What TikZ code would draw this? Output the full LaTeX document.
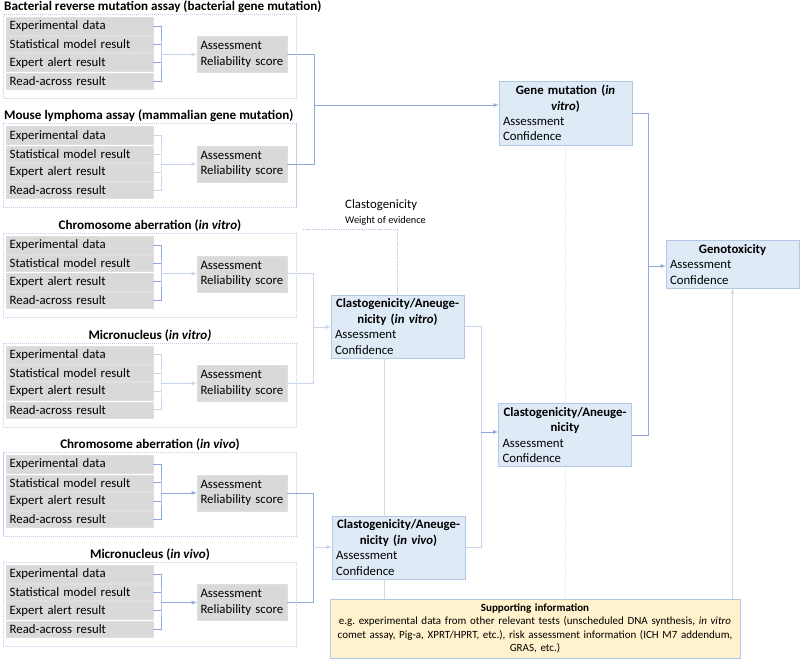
\documentclass[tikz,border=0pt]{standalone}
\usepackage{fontspec}
\setmainfont{Carlito}
\usepackage{tikz}
\usetikzlibrary{arrows.meta,backgrounds,positioning,calc}

\definecolor{boxgray}{HTML}{D9D9D9}
\definecolor{paleblue}{HTML}{DEEBF7}
\definecolor{edgeblue}{HTML}{B4C7E7}
\definecolor{wireblue}{HTML}{8FAADC}
\definecolor{faintblue}{HTML}{C9D6EE}
\definecolor{paleyellow}{HTML}{FFF2CC}

\tikzset{
  rowbox/.style={draw=gray!25, fill=boxgray, anchor=west, text width=140pt, inner sep=3.5pt,
    minimum height=16pt, align=left, font=\fontsize{12.8}{15.4}\selectfont},
  assessbox/.style={draw=gray!25, fill=boxgray, text width=83pt, inner sep=3.5pt,
    minimum height=36pt, align=left, font=\fontsize{12.8}{15.4}\selectfont},
  resbox/.style={draw=edgeblue, fill=paleblue, text width=125pt, inner sep=4pt,
    align=left, font=\fontsize{12.8}{15.4}\selectfont},
  suppbox/.style={draw=edgeblue, fill=paleyellow, text width=402pt, inner sep=4pt,
    minimum height=59pt, align=center, font=\fontsize{11}{13.5}\selectfont},
  grouptitle/.style={font=\bfseries\fontsize{13.1}{15}\selectfont, inner sep=1pt},
  groupframe/.style={draw=edgeblue!85, dash pattern=on 1.2pt off 0.8pt, fill=white, line width=0.6pt},
  wire/.style={draw=wireblue, line width=0.8pt},
  faintwire/.style={draw=faintblue, line width=0.8pt},
  greyline/.style={draw=gray!30, line width=0.8pt},
  dotline/.style={draw=edgeblue, densely dotted, line width=0.8pt},
}

\begin{document}
\frenchspacing
\begin{tikzpicture}[x=1pt,y=-1pt]
  \useasboundingbox (0,0) rectangle (800,662);
  % six assay groups
  \foreach \i/\tx/\tanc/\ttl/\bst/\ast in {
      1/3/west/{Bacterial reverse mutation assay (bacterial gene mutation)}/wire/faintwire,
      2/3/west/{Mouse lymphoma assay (mammalian gene mutation)}/faintwire/faintwire,
      3/150/center/{Chromosome aberration (\textit{in vitro})}/wire/faintwire,
      4/150/center/{Micronucleus (\textit{in vitro)}}/faintwire/faintwire,
      5/150/center/{Chromosome aberration (\textit{in vivo})}/wire/wire,
      6/150/center/{Micronucleus (\textit{in vivo})}/wire/wire}
  {
    \pgfmathsetmacro\gy{14+(\i-1)*109.6}
    \draw[groupframe] (3,\gy) rectangle (296,\gy+84);
    \node[grouptitle, anchor=\tanc] (t\i) at (\tx,\gy-7.5) {\ttl};
    \foreach \j/\lbl in {1/Experimental data,2/Statistical model result,3/Expert alert result,4/Read-across result}
      \node[rowbox] (r\i\j) at (6,{\gy+12+(\j-1)*18.3}) {\lbl};
    \node[assessbox] (a\i) at (242,\gy+40.5) {Assessment\\Reliability score};
    \coordinate (k\i) at (161,\gy+40.5);
    \draw[\bst] (r\i1.east) -| (k\i) |- (r\i4.east);
    \draw[\bst] (r\i2.east) -- (r\i2.east -| k\i);
    \draw[\bst] (r\i3.east) -- (r\i3.east -| k\i);
    \draw[\ast,-latex] (k\i) -- (a\i.west);
  }

  % endpoint boxes
  \node[resbox] (gene) at (565.5,113) {{\centering\bfseries Gene mutation (\textit{in}\\ \textit{vitro})\par}Assessment\\Confidence};
  \node[resbox] (clvitro) at (397.5,326.5) {{\centering\bfseries Clastogenicity/Aneuge-\\nicity (\textit{in vitro})\par}Assessment\\Confidence};
  \node[resbox] (clvivo) at (398.5,547.5) {{\centering\bfseries Clastogenicity/Aneuge-\\nicity (\textit{in vivo})\par}Assessment\\Confidence};
  \node[resbox] (clboth) at (565,435) {{\centering\bfseries Clastogenicity/Aneuge-\\nicity\par}Assessment\\Confidence};
  \node[resbox] (geno) at (732.5,264.5) {{\centering\bfseries Genotoxicity\par}Assessment\\Confidence};
  \node[suppbox] (supp) at (535,628.5) {\textbf{Supporting information}\\
    e.g. experimental data from other relevant tests (unscheduled DNA synthesis, \textit{in vitro}\\
    comet assay, Pig-a, XPRT/HPRT, etc.), risk assessment information (ICH M7 addendum,\\
    GRAS, etc.)};

  \node[anchor=west, inner sep=1pt, font=\fontsize{12.8}{15}\selectfont] (clast) at (344,205) {Clastogenicity};
  \node[anchor=west, inner sep=1pt, font=\fontsize{10.3}{12}\selectfont] (woe) at (344,221) {Weight of evidence};

  % joins on the left
  \coordinate (m1) at (314,105);
  \coordinate (m2) at (313,327);
  \coordinate (m3) at (313,547);
  \coordinate (dstart) at (303,229);
  \draw[wire] (a1.east) -| (m1);
  \draw[wire] (a2.east) -| (m1);
  \draw[wire,-latex] (m1) -- (m1 -| gene.west);
  \draw[faintwire] (a3.east) -| (m2);
  \draw[faintwire] (a4.east) -| (m2);
  \draw[faintwire,-latex] (m2) -- (m2 -| clvitro.west);
  \draw[wire] (a5.east) -| (m3);
  \draw[wire] (a6.east) -| (m3);
  \draw[faintwire,-latex] (m3) -- (m3 -| clvivo.west);
  \draw[dotline] (dstart) -| (clvitro.north);

  % joins on the right
  \coordinate (m4) at (481,432);
  \coordinate (m5) at (648,266);
  \coordinate (v1) at (384,0);
  \draw[faintwire] (clvitro.east) -| (m4);
  \draw[faintwire] (clvivo.east) -| (m4);
  \draw[wire,-latex] (m4) -- (m4 -| clboth.west);
  \draw[wire] (gene.east) -| (m5);
  \draw[wire] (clboth.east) -| (m5);
  \draw[wire,-latex] (m5) -- (m5 -| geno.west);
  \draw[greyline] (clvitro.south -| v1) -- (clvivo.north -| v1);
  \draw[greyline] (clvivo.south -| v1) -- (supp.north -| v1);
  \draw[greyline,-latex] (geno.south |- supp.north) -- (geno.south);
  \begin{scope}[on background layer]
    \draw[dotline, draw=edgeblue!40] (gene.south) -- (supp.north -| gene.south);
  \end{scope}
\end{tikzpicture}
\end{document}
